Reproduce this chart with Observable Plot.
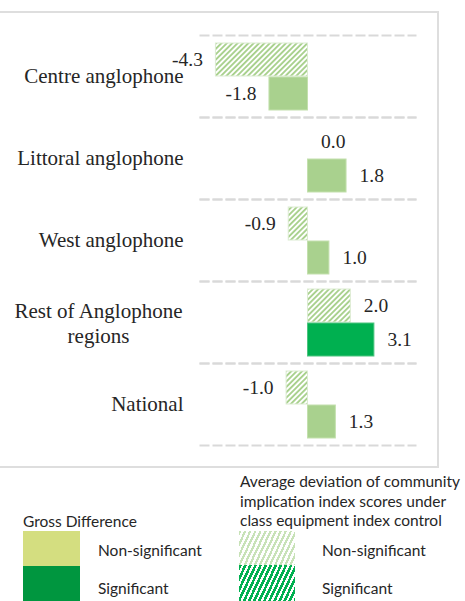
<!DOCTYPE html>
<html>
<head>
<meta charset="utf-8">
<script src="https://cdn.jsdelivr.net/npm/d3@7"></script>
<script src="https://cdn.jsdelivr.net/npm/@observablehq/plot@0.6"></script>
<style>
  html, body { margin: 0; padding: 0; background: #fff; }
  body { width: 465px; height: 601px; position: relative; overflow: hidden; font-family: Lato, "Liberation Sans", sans-serif; color: #262626; }
  #box { position: absolute; left: -2px; top: 11px; width: 441px; height: 457px; border: 2px solid #dedede; box-sizing: border-box; }
  #chart { position: absolute; left: 0; top: 0; }
  #chart svg, #chart svg text { font-family: "Liberation Serif", "Times New Roman", serif !important; }
  .lg { position: absolute; font-size: 15.5px; line-height: 20px; white-space: nowrap; }
  .sw { position: absolute; }
</style>
</head>
<body>
<svg width="0" height="0" style="position:absolute">
  <defs>
    <pattern id="hatchLight" patternUnits="userSpaceOnUse" width="3.8" height="3.8" patternTransform="rotate(45)">
      <rect width="3.8" height="3.8" fill="#ffffff"></rect>
      <rect width="1.9" height="3.8" fill="#a9d18e"></rect>
    </pattern>
  </defs>
</svg>
<div id="box"></div>
<div id="chart"></div>

<div class="lg" style="left:23px; top:511px;">Gross Difference</div>
<div class="sw" style="left:23px; top:531px; width:57px; height:35px; background:#d4de80;"></div>
<div class="sw" style="left:23px; top:566px; width:57px; height:35px; background:#00963f;"></div>
<div class="lg" style="left:98px; top:540px;">Non-significant</div>
<div class="lg" style="left:98px; top:578px;">Significant</div>

<div class="lg" style="left:240px; top:472px; line-height:19.5px;">Average deviation of community<br>implication index scores under<br>class equipment index control</div>
<div class="sw" style="left:239px; top:531px; width:56px; height:34px; background:repeating-linear-gradient(115deg, #c8e2b8 0 2.2px, #ffffff 2.2px 4.6px);"></div>
<div class="sw" style="left:239px; top:565px; width:56px; height:36px; background:repeating-linear-gradient(115deg, #00b050 0 2.6px, #ffffff 2.6px 4.6px);"></div>
<div class="lg" style="left:322px; top:540px;">Non-significant</div>
<div class="lg" style="left:322px; top:578px;">Significant</div>

<script>
// ---- data ----
const categories = ["Centre anglophone", "Littoral anglophone", "West anglophone", "Rest of Anglophone regions", "National"];
const categoryLabels = ["Centre anglophone", "Littoral anglophone", "West anglophone", "Rest of Anglophone\nregions", "National"];
const seriesNames = ["controlled", "gross"];
const controlledValues = [-4.3, 0.0, -0.9, 2.0, -1.0];
const controlledSignificant = [false, false, false, false, false];
const grossValues = [-1.8, 1.8, 1.0, 3.1, 1.3];
const grossSignificant = [false, false, false, true, false];

const rows = categories.flatMap((c, i) => [
  {category: c, series: "controlled", value: controlledValues[i], sig: controlledSignificant[i]},
  {category: c, series: "gross", value: grossValues[i], sig: grossSignificant[i]}
]);
const labelRows = categories.map((c, i) => ({category: c, label: categoryLabels[i]}));

const serif = "Liberation Serif";

const chart = Plot.plot({
  width: 465,
  height: 470,
  marginLeft: 200,
  marginRight: 50,
  marginTop: 35,
  marginBottom: 25,
  x: {domain: [-5.02, 5.02], axis: null},
  y: {domain: seriesNames, axis: null, paddingInner: 0.03, paddingOuter: 0.2},
  fy: {domain: categories, axis: null, paddingInner: 0, paddingOuter: 0},
  color: {type: "identity"},
  marks: [
    Plot.frame({anchor: "top", stroke: "#d9d9d9", strokeWidth: 2, strokeDasharray: "8,5"}),
    Plot.frame({anchor: "bottom", stroke: "#d9d9d9", strokeWidth: 2, strokeDasharray: "8,5"}),
    Plot.barX(rows.filter(d => d.series === "controlled" && d.value !== 0), {
      x: "value", y: "series", fy: "category",
      fill: d => d.sig ? "#00b050" : "url(#hatchLight)",
      stroke: "#dcebd2", strokeWidth: 1
    }),
    Plot.barX(rows.filter(d => d.series === "gross" && d.value !== 0), {
      x: "value", y: "series", fy: "category",
      fill: d => d.sig ? "#00b050" : "#a9d18e",
      stroke: d => d.sig ? "#4cc47f" : "#c3e0ad", strokeWidth: 1
    }),
    Plot.text(rows.filter(d => d.value < 0), {
      x: "value", y: "series", fy: "category",
      text: d => d.value.toFixed(1),
      textAnchor: "end", dx: -13,
      fontSize: 19.5, fontFamily: serif, fill: "#262626"
    }),
    Plot.text(rows.filter(d => d.value >= 0), {
      x: "value", y: "series", fy: "category",
      text: d => d.value.toFixed(1),
      textAnchor: "start", dx: 13,
      fontSize: 19.5, fontFamily: serif, fill: "#262626"
    }),
    Plot.text(labelRows.filter(d => !d.label.includes("\n")), {
      fy: "category", text: "label", frameAnchor: "left",
      textAnchor: "end", dx: -17,
      fontSize: 21, fontFamily: serif, fill: "#262626"
    }),
    Plot.text(labelRows.filter(d => d.label.includes("\n")), {
      fy: "category", text: "label", frameAnchor: "left",
      textAnchor: "middle", dx: -102, lineHeight: 1.2,
      fontSize: 21, fontFamily: serif, fill: "#262626"
    })
  ]
});
document.getElementById("chart").appendChild(chart);
</script>
</body>
</html>
